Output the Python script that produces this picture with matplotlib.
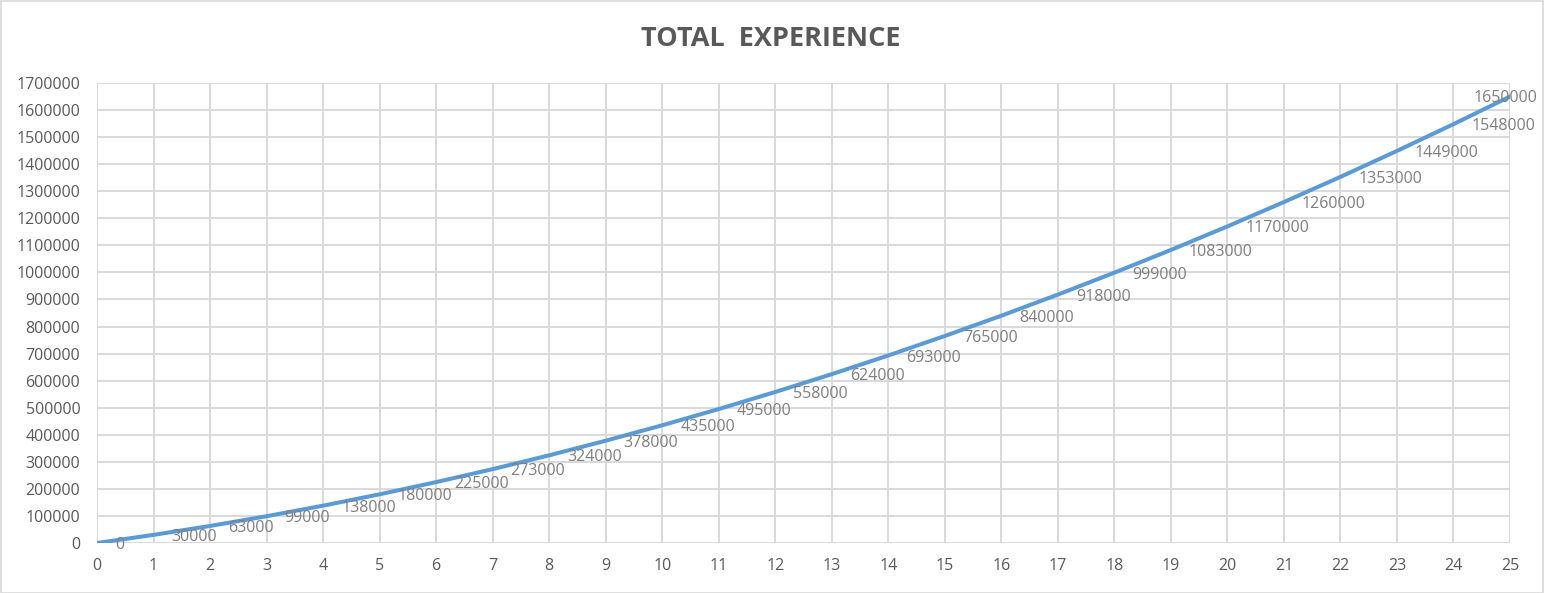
import matplotlib
matplotlib.use("Agg")
import matplotlib.pyplot as plt
from matplotlib.patches import Rectangle

levels = list(range(0, 26))
total_xp = [0, 30000, 63000, 99000, 138000, 180000, 225000, 273000, 324000, 378000,
            435000, 495000, 558000, 624000, 693000, 765000, 840000, 918000, 999000,
            1083000, 1170000, 1260000, 1353000, 1449000, 1548000, 1650000]
y_ticks = list(range(0, 1700001, 100000))
title = "TOTAL  EXPERIENCE"

plt.rcParams['font.family'] = ['Open Sans', 'DejaVu Sans']

W, H = 1544, 593
fig = plt.figure(figsize=(W / 100, H / 100), dpi=100)
fig.patch.set_facecolor('white')
fig.patches.append(Rectangle((0.5 / W, 0.5 / H), 1 - 1.5 / W, 1 - 1.5 / H,
                             transform=fig.transFigure, fill=False,
                             edgecolor='#D9D9D9', linewidth=1.2))

ax = fig.add_axes([97 / W, 1 - 543 / H, (1510 - 97) / W, (543 - 83) / H])
ax.set_xlim(0, 25)
ax.set_ylim(0, 1700000)
ax.set_xticks(levels)
ax.set_xticklabels([str(v) for v in levels])
ax.set_yticks(y_ticks)
ax.set_yticklabels([str(v) for v in y_ticks])
ax.grid(True, color='#D9D9D9', linewidth=1.4)
ax.set_axisbelow(True)
for s in ax.spines.values():
    s.set_visible(False)
ax.tick_params(axis='both', length=0, labelsize=11.5, labelcolor='#595959')
ax.tick_params(axis='x', pad=11)
ax.tick_params(axis='y', pad=12)

ax.plot(levels, total_xp, color='#5B9BD5', linewidth=2.9, solid_capstyle='round', zorder=3)

for i, (x, y) in enumerate(zip(levels, total_xp)):
    if i == len(levels) - 1:
        ax.annotate(str(y), (x, y), xytext=(20, -1), textcoords='offset points',
                    ha='right', va='center', fontsize=11.5, color='#7F7F7F',
                    annotation_clip=False, zorder=4)
    else:
        ax.annotate(str(y), (x, y), xytext=(13, -1.5), textcoords='offset points',
                    ha='left', va='center', fontsize=11.5, color='#7F7F7F',
                    annotation_clip=False, zorder=4)

fig.text(771 / W, 1 - 39.5 / H, title, ha='center', va='center', fontsize=19.5,
         fontweight='bold', color='#595959')

fig.savefig('out.png', dpi=100)
